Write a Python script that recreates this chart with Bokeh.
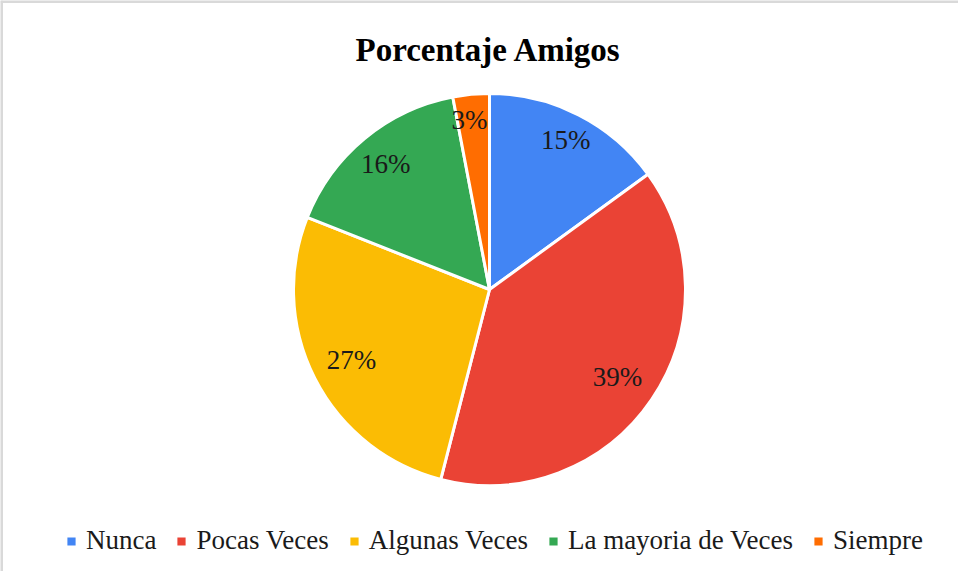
import math
from bokeh.plotting import figure
from bokeh.models import ColumnDataSource, Range1d, Label, Span, Legend, LegendItem
from bokeh.embed import file_html
from bokeh.resources import INLINE

# ---- data ----
categories = ["Nunca", "Pocas Veces", "Algunas Veces", "La mayoria de Veces", "Siempre"]
percent = [15, 39, 27, 16, 3]
colors = ["#4285F4", "#EA4335", "#FBBC04", "#34A853", "#FF6D01"]
title_text = "Porcentaje Amigos"

# ---- layout ----
W, H = 958, 571
CX, CY, R = 489, 282, 196
label_frac = [0.857, 0.79, 0.79, 0.83, 0.87]
label_shift = [0, 0, 0, 0, -4]
FONT = "Liberation Serif"

total = sum(percent)
starts, ends, lx, ly, texts = [], [], [], [], []
cum = 0.0
for i, v in enumerate(percent):
    a0 = math.pi / 2 - 2 * math.pi * cum / total
    cum += v
    a1 = math.pi / 2 - 2 * math.pi * cum / total
    starts.append(a0)
    ends.append(a1)
    mid = (a0 + a1) / 2
    lx.append(CX + R * label_frac[i] * math.cos(mid) + label_shift[i])
    ly.append(CY + R * label_frac[i] * math.sin(mid))
    texts.append(f"{v}%")

src = ColumnDataSource(dict(cat=categories, start=starts, end=ends, color=colors,
                            lx=lx, ly=ly, txt=texts,
                            x=[CX] * len(percent), y=[CY] * len(percent)))

p = figure(width=W, height=H, x_range=Range1d(0, W), y_range=Range1d(0, H),
           x_axis_type=None, y_axis_type=None, toolbar_location=None,
           output_backend="svg", min_border=0)
p.grid.visible = False
p.outline_line_color = None
p.background_fill_color = "white"
p.border_fill_color = "white"

wedges = p.wedge(x="x", y="y", radius=R, start_angle="start", end_angle="end",
                 direction="clock", fill_color="color", line_color="white",
                 line_width=3, source=src)

p.text(x="lx", y="ly", text="txt", source=src, text_align="center",
       text_baseline="middle", text_font_size="27px", text_color="#1a1a1a",
       text_font={"value": FONT})

p.add_layout(Label(x=CX - 1, y=H - 49, text=title_text, text_align="center",
                   text_baseline="alphabetic", text_font=FONT,
                   text_font_size="33px", text_font_style="bold",
                   text_color="#000000"))

items = [LegendItem(label=c, renderers=[wedges], index=i) for i, c in enumerate(categories)]
legend = Legend(items=items, orientation="horizontal", location=(64, 15),
                glyph_width=14, glyph_height=14, label_standoff=8, spacing=18,
                label_text_font=FONT, label_text_font_size="27px",
                label_text_color="#1a1a1a", border_line_color=None,
                background_fill_alpha=0, padding=10, margin=0)
p.add_layout(legend, "center")

p.add_layout(Span(location=H - 1, dimension="width", line_color="#d9d9d9", line_width=3))
p.add_layout(Span(location=1, dimension="height", line_color="#d9d9d9", line_width=3))

open("out.html", "w").write(file_html(p, INLINE))
